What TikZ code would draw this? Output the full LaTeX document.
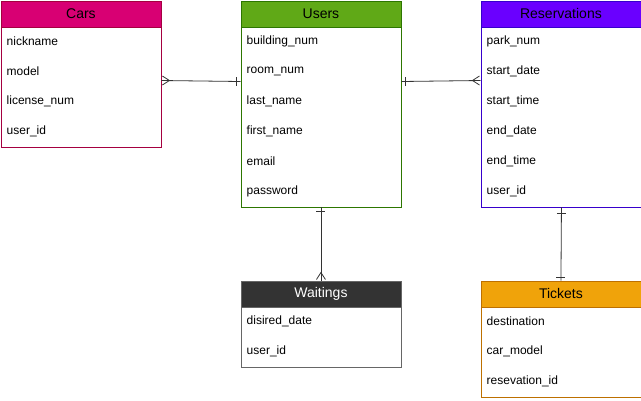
\documentclass[tikz,border=0pt]{standalone}
\usepackage{fontspec}
\setmainfont{Liberation Sans}
\usetikzlibrary{calc}
\definecolor{carsfill}{HTML}{D80073}\definecolor{carsline}{HTML}{A50040}
\definecolor{usersfill}{HTML}{60A917}\definecolor{usersline}{HTML}{2D7600}
\definecolor{resfill}{HTML}{6A00FF}\definecolor{resline}{HTML}{3700CC}
\definecolor{waitfill}{HTML}{333333}\definecolor{waitline}{HTML}{666666}
\definecolor{tickfill}{HTML}{F0A30A}\definecolor{tickline}{HTML}{BD7000}
\definecolor{connc}{HTML}{333333}
\tikzset{
  body/.style={draw, fill=white, line width=0.9pt, minimum width=160pt, anchor=north west, inner sep=0pt},
  head/.style={draw, line width=0.9pt, minimum width=160pt, minimum height=26pt, anchor=north west, inner sep=0pt, font=\fontsize{14}{16}\selectfont},
  field/.style={anchor=west, inner xsep=6pt, inner ysep=0pt, font=\fontsize{12}{14}\selectfont},
  conn/.style={draw=connc, line width=0.8pt},
}
\newcommand\erbox[8]{%
  \node[body, draw=#6line, minimum height={26pt+30pt*#4}] (#1) at (#2,#3) {};
  \node[head, fill=#6fill, draw=#6line, text=#7] (#1-head) at (#1.north west) {#5};
  \foreach \f [count=\i] in {#8} {
    \node[field] (#1-f\i) at ($(#1.north west)+(0,26+30*\i-15)$) {\f};
  }
}
\begin{document}
\begin{tikzpicture}[x=1pt,y=-1pt]
\useasboundingbox (0,0) rectangle (641,400);
\erbox{cars}{0.5}{0.5}{4}{Cars}{cars}{black}{nickname,model,license\_num,user\_id}
\erbox{users}{240.5}{0.5}{6}{Users}{users}{black}{building\_num,room\_num,last\_name,first\_name,email,password}
\erbox{res}{480.5}{0.5}{6}{Reservations}{res}{black}{park\_num,start\_date,start\_time,end\_date,end\_time,user\_id}
\erbox{wait}{240.5}{280.5}{2}{Waitings}{wait}{white}{disired\_date,user\_id}
\erbox{tick}{480.5}{280.5}{3}{Tickets}{tick}{black}{destination,car\_model,resevation\_id}

% Cars -- Users
\coordinate (c1) at ($(cars.north east)+(0,80)$);
\coordinate (u1) at ($(users.north west)+(0,81)$);
\draw[conn] (c1) -- (u1);
\draw[conn] ($(c1)+(1,-4.5)$) -- ($(c1)+(8,0)$) -- ($(c1)+(1,4.5)$);
\draw[conn] ($(u1)+(-4,-4.5)$) -- ($(u1)+(-4,4.5)$);

% Users -- Reservations
\coordinate (u2) at ($(users.north east)+(0,81)$);
\coordinate (r1) at ($(res.north west)+(0,80)$);
\draw[conn] (u2) -- (r1);
\draw[conn] ($(u2)+(4,-4.5)$) -- ($(u2)+(4,4.5)$);
\draw[conn] ($(r1)+(-1,-4.5)$) -- ($(r1)+(-8,0)$) -- ($(r1)+(-1,4.5)$);

% Users -- Waitings
\coordinate (u3) at (users.south);
\coordinate (w1) at (wait.north);
\draw[conn] (u3) -- (w1);
\draw[conn] ($(u3)+(-4.5,4)$) -- ($(u3)+(4.5,4)$);
\draw[conn] ($(w1)+(-4.5,-1)$) -- ($(w1)+(0,-8)$) -- ($(w1)+(4.5,-1)$);

% Reservations -- Tickets
\coordinate (r2) at ($(res.south)+(0.5,0)$);
\coordinate (t1) at (tick.north);
\draw[conn] (r2) -- (t1);
\draw[conn] ($(r2)+(-4.5,6)$) -- ($(r2)+(4.5,6)$);
\draw[conn] ($(t1)+(-4.5,-3.5)$) -- ($(t1)+(4.5,-3.5)$);
\end{tikzpicture}
\end{document}
